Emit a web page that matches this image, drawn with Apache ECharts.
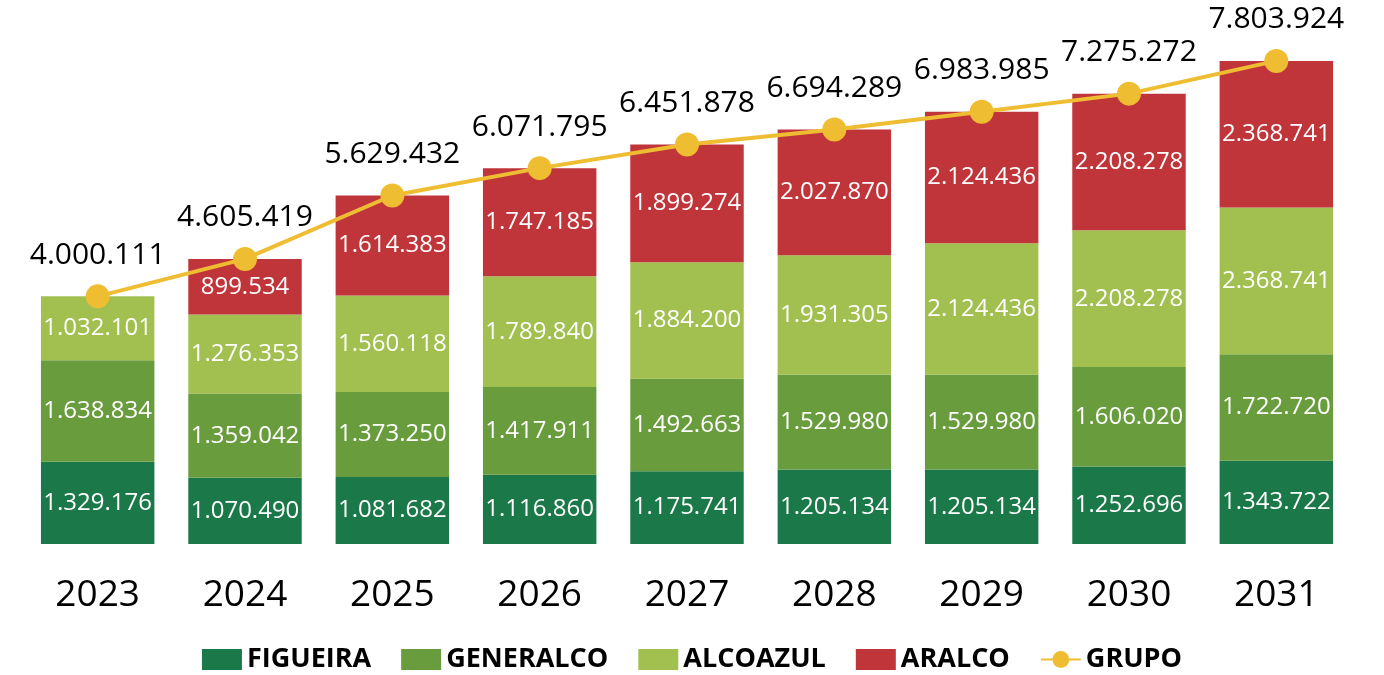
<!DOCTYPE html>
<html>
<head>
<meta charset="utf-8">
<script src="https://cdn.jsdelivr.net/npm/echarts@6/dist/echarts.min.js"></script>
<style>
  html, body {margin: 0; padding: 0; background: #fff;}
  #chart {width: 1384px; height: 675px;}
</style>
</head>
<body>
<div id="chart"></div>
<script>
// anos
var years = ['2023', '2024', '2025', '2026', '2027', '2028', '2029', '2030', '2031'];

// moagem por unidade
var figueira  = [1329176, 1070490, 1081682, 1116860, 1175741, 1205134, 1205134, 1252696, 1343722];
var generalco = [1638834, 1359042, 1373250, 1417911, 1492663, 1529980, 1529980, 1606020, 1722720];
var alcoazul  = [1032101, 1276353, 1560118, 1789840, 1884200, 1931305, 2124436, 2208278, 2368741];
var aralco    = [null, 899534, 1614383, 1747185, 1899274, 2027870, 2124436, 2208278, 2368741];
// total do grupo
var grupo     = [4000111, 4605419, 5629432, 6071795, 6451878, 6694289, 6983985, 7275272, 7803924];

function fmt(v){
    return String(v).replace(/\B(?=(\d{3})+(?!\d))/g, '.');
}

var font = '"Open Sans", "Noto Sans", sans-serif';

function barSerie(name, data, color){
    return {
        name: name,
        type: 'bar',
        stack: 'total',
        barWidth: '77%',
        data: data,
        itemStyle: {color: color},
        label: {
            show: true,
            position: 'inside',
            color: '#fff',
            fontFamily: font,
            fontSize: 24,
            formatter: function(p){ return p.value == null ? '' : fmt(p.value); }
        }
    };
}

var chart = echarts.init(document.getElementById('chart'));
chart.setOption({
    animation: false,
    textStyle: {fontFamily: font},
    grid: {left: 24, right: 34, top: 24, bottom: 131},
    legend: {
        top: 641,
        left: 'center',
        itemWidth: 40,
        itemHeight: 21,
        itemGap: 30,
        textStyle: {fontFamily: font, fontSize: 27, fontWeight: 'bold', color: '#000'},
        data: [
            {name: 'FIGUEIRA', icon: 'rect'},
            {name: 'GENERALCO', icon: 'rect'},
            {name: 'ALCOAZUL', icon: 'rect'},
            {name: 'ARALCO', icon: 'rect'},
            {name: 'GRUPO'}
        ]
    },
    xAxis: {
        type: 'category',
        data: years,
        axisLine: {show: false},
        axisTick: {show: false},
        axisLabel: {color: '#000', fontSize: 37, margin: 33, fontFamily: font}
    },
    yAxis: {
        type: 'value',
        min: 0,
        max: 8400000,
        show: false,
        splitLine: {show: false}
    },
    series: [
        barSerie('FIGUEIRA', figueira, '#1a7849'),
        barSerie('GENERALCO', generalco, '#699c3d'),
        barSerie('ALCOAZUL', alcoazul, '#a1c04f'),
        barSerie('ARALCO', aralco, '#c0353a'),
        {
            name: 'GRUPO',
            type: 'line',
            data: grupo,
            symbol: 'circle',
            symbolSize: 24,
            z: 10,
            lineStyle: {color: '#efbd32', width: 4},
            itemStyle: {color: '#efbd32'},
            label: {
                show: true,
                position: 'top',
                distance: 14,
                color: '#000',
                fontFamily: font,
                fontSize: 30,
                formatter: function(p){ return fmt(p.value); }
            }
        }
    ]
});
</script>
</body>
</html>
